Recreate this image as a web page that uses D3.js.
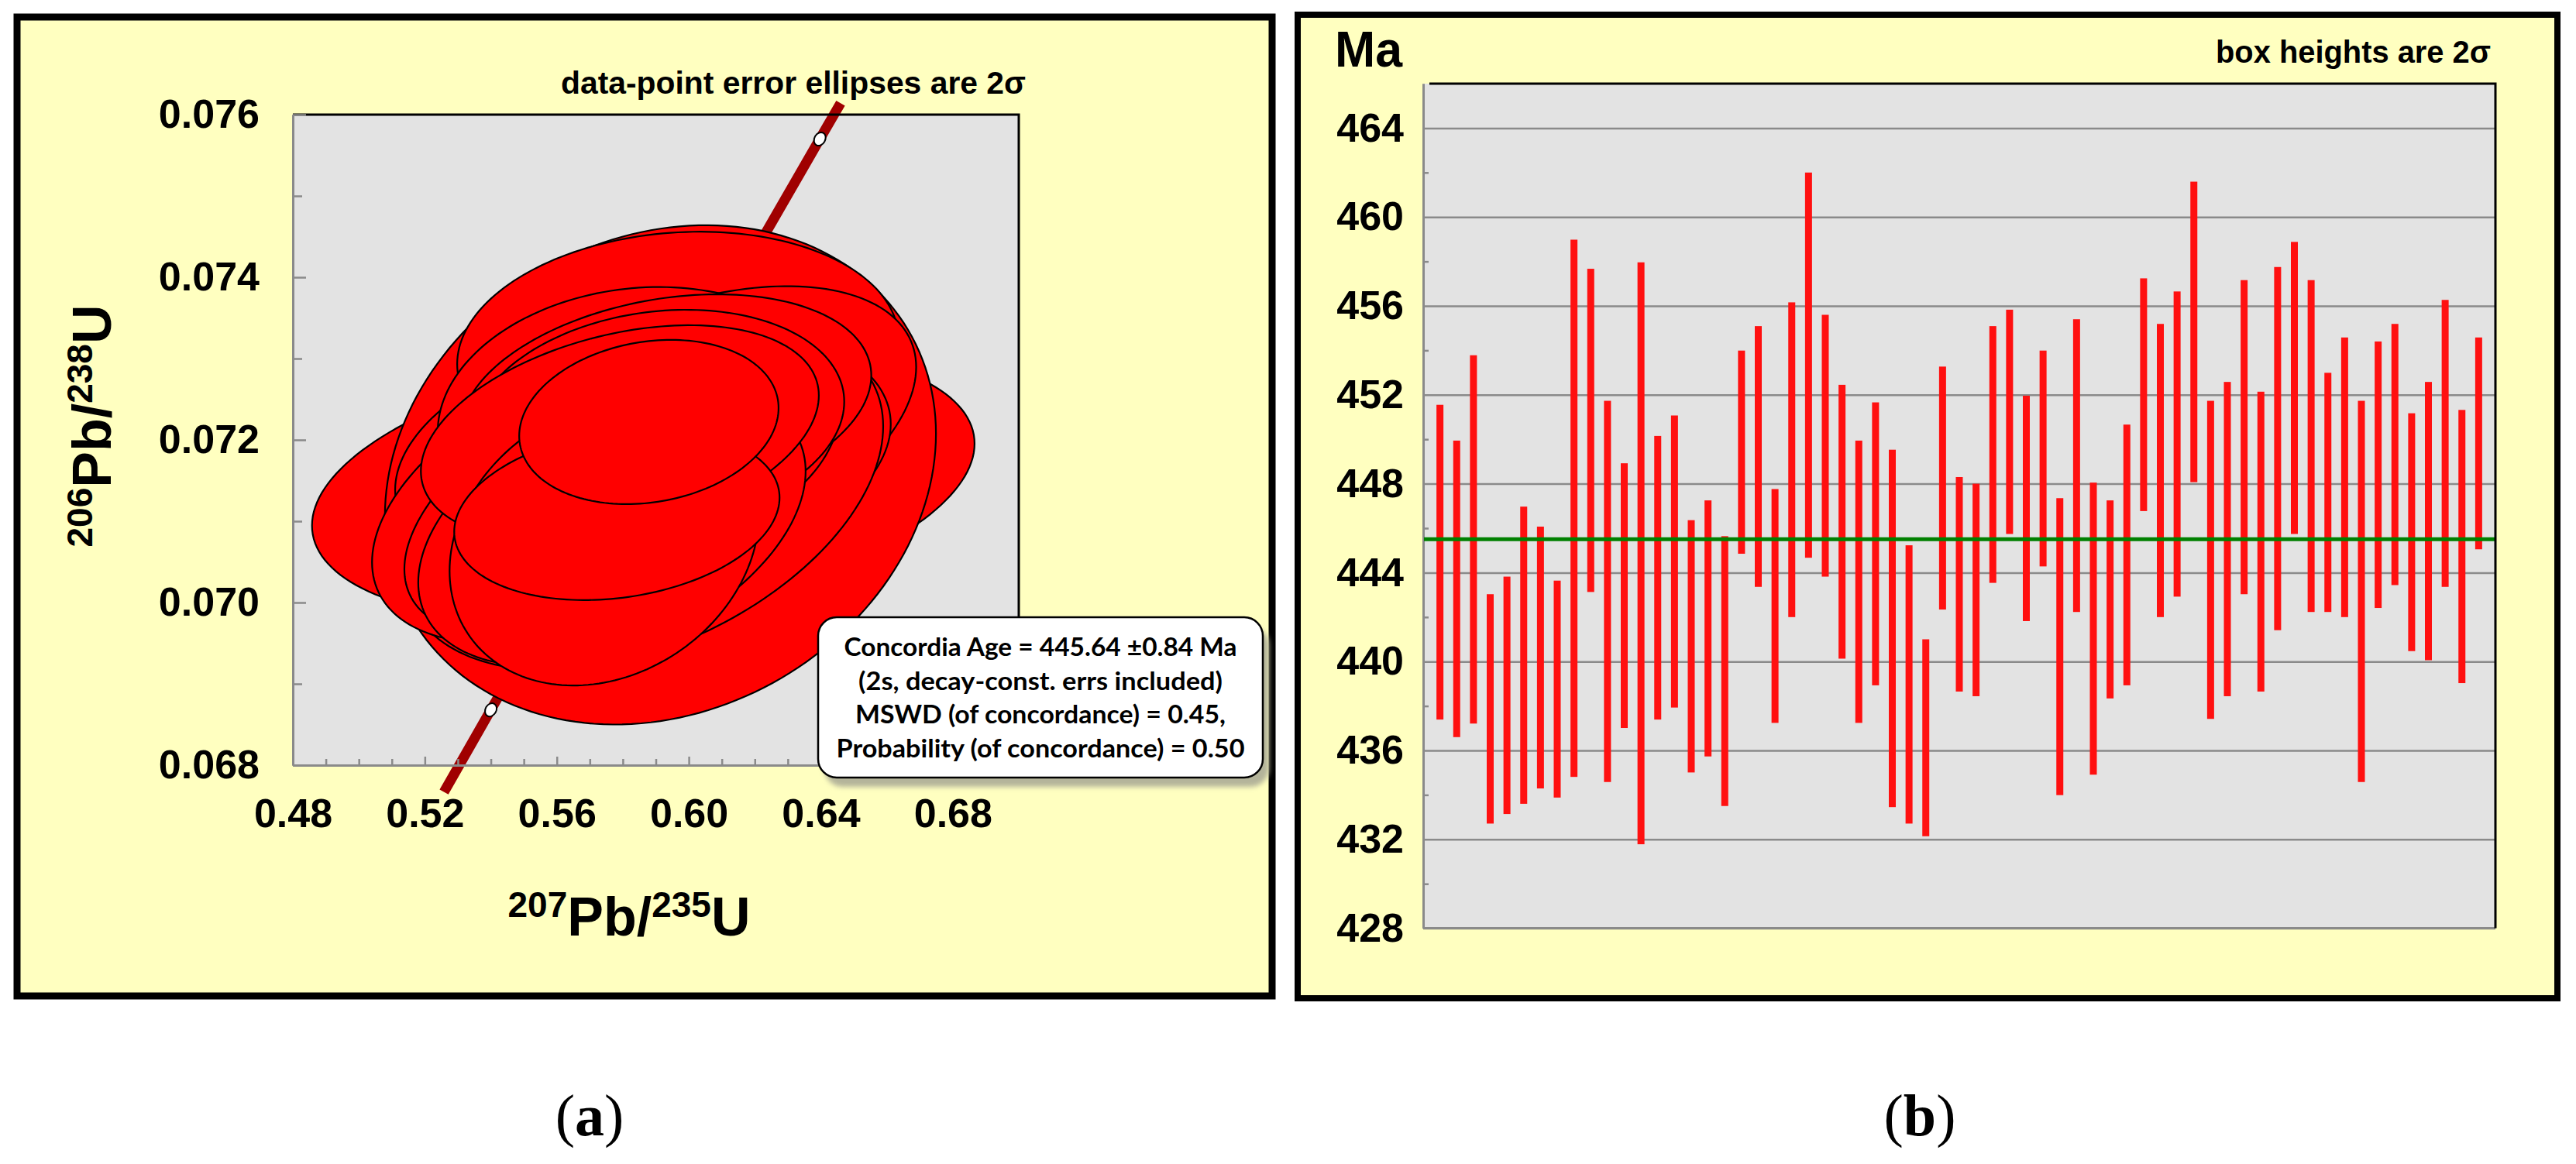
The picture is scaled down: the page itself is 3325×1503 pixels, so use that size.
<!DOCTYPE html>
<html>
<head>
<meta charset="utf-8">
<script src="https://cdn.jsdelivr.net/npm/d3@7"></script>
<style>
  html, body { margin: 0; padding: 0; background: #ffffff; }
  svg { display: block; }
</style>
</head>
<body>
<svg id="chart" width="3325" height="1503"></svg>
<script>
// ---------- DATA: panel (a) concordia error ellipses (2 sigma) ----------
const ellX   = [0.5862, 0.5914, 0.5967, 0.5978, 0.5861, 0.5861, 0.5697, 0.5849, 0.5931, 0.5908, 0.5697, 0.5767, 0.5791, 0.5744, 0.5782, 0.5879];   // 207Pb/235U
const ellY   = [0.07145, 0.07157, 0.07308, 0.07208, 0.07179, 0.07131, 0.07131, 0.07226, 0.07246, 0.07227, 0.07122, 0.07093, 0.07208, 0.07074, 0.07108, 0.07222]; // 206Pb/238U
const ellSX  = [0.1004, 0.0835, 0.0669, 0.0711, 0.0751, 0.0728, 0.0657, 0.0610, 0.0622, 0.0563, 0.0559, 0.0587, 0.0603, 0.0469, 0.0493, 0.0393];
const ellSY  = [0.00168, 0.00307, 0.00148, 0.00181, 0.00162, 0.00214, 0.00181, 0.00162, 0.00133, 0.00133, 0.00162, 0.00171, 0.00133, 0.00176, 0.00105, 0.00101];
const ellRho = [0.30, 0.165, 0.10, 0.45, 0.25, 0.40, 0.45, 0.10, 0.25, 0.15, 0.50, 0.40, 0.35, 0.20, 0.20, 0.17];

// concordia line (as drawn) and its age markers
const concX = [0.5258, 0.5400, 0.6397, 0.6460];
const concY = [0.06767, 0.06868, 0.07570, 0.07614];
const markerX = [0.5400, 0.6397];
const markerY = [0.06868, 0.07570];

const xTicksA = [0.48, 0.52, 0.56, 0.60, 0.64, 0.68];
const xMinorA = [0.49, 0.50, 0.51, 0.53, 0.54, 0.55, 0.57, 0.58, 0.59, 0.61, 0.62, 0.63, 0.65, 0.66, 0.67, 0.69];
const yTicksA = [0.068, 0.070, 0.072, 0.074, 0.076];
const yMinorA = [0.069, 0.071, 0.073, 0.075];

const infoLines = [
  "Concordia Age = 445.64 \u00B10.84 Ma",
  "(2s, decay-const. errs included)",
  "MSWD (of concordance) = 0.45,",
  "Probability (of concordance) = 0.50"
];

// ---------- DATA: panel (b) age boxes (2 sigma), Ma ----------
const ageLow  = [437.39, 436.60, 437.21, 432.71, 433.14, 433.60, 434.29, 433.88, 434.81, 443.13,
                 434.58, 437.01, 431.78, 437.39, 437.93, 435.01, 435.73, 433.50, 444.85, 443.36,
                 437.24, 442.00, 444.67, 443.82, 440.13, 437.24, 438.93, 433.45, 432.71, 432.14,
                 442.34, 438.65, 438.44, 443.54, 445.74, 441.82, 444.28, 433.99, 442.23, 434.91,
                 438.34, 438.93, 446.77, 442.00, 442.92, 448.07, 437.42, 438.44, 443.03, 438.65,
                 441.41, 445.74, 442.23, 442.23, 442.00, 434.58, 442.41, 443.44, 440.47, 440.06,
                 443.36, 439.03, 445.05];
const ageHigh = [451.55, 449.94, 453.78, 443.03, 443.82, 446.97, 446.07, 443.64, 458.98, 457.67,
                 451.73, 448.92, 457.96, 450.15, 451.07, 446.36, 447.25, 445.64, 453.99, 455.09,
                 447.76, 456.16, 462.00, 455.60, 452.45, 449.94, 451.66, 449.53, 445.23, 441.00,
                 453.27, 448.30, 448.00, 455.09, 455.83, 451.96, 453.99, 447.35, 455.40, 448.05,
                 447.25, 450.66, 457.24, 455.19, 456.65, 461.59, 451.73, 452.58, 457.16, 452.14,
                 457.75, 458.88, 457.16, 452.99, 454.58, 451.73, 454.40, 455.19, 451.17, 452.58,
                 456.27, 451.32, 454.58];
const meanAge = 445.5;
const yTicksB = [428, 432, 436, 440, 444, 448, 452, 456, 460, 464];
const yMinorB = [430, 434, 438, 442, 446, 450, 454, 458, 462];

// ---------- DRAWING ----------
const svg = d3.select("#chart");
const boldFont = "'Liberation Sans', Arial, sans-serif";
const gridGray = "#8a8a8a";

// ===== Panel (a) =====
svg.append("rect").attr("x", 22).attr("y", 22).attr("width", 1620).attr("height", 1264)
  .attr("fill", "#ffffc0").attr("stroke", "#000").attr("stroke-width", 9);

const xA = d3.scaleLinear().domain([0.48, 0.70]).range([378, 1315]);
const yA = d3.scaleLinear().domain([0.068, 0.076]).range([988, 148]);

svg.append("rect").attr("x", xA(0.48)).attr("y", yA(0.076))
  .attr("width", xA(0.70) - xA(0.48)).attr("height", yA(0.068) - yA(0.076))
  .attr("fill", "#e3e3e3");

// concordia line
const concLine = d3.line().x((d, i) => xA(concX[i])).y((d, i) => yA(concY[i]));
svg.append("path").attr("d", concLine(concX)).attr("fill", "none")
  .attr("stroke", "#a00000").attr("stroke-width", 13);

// markers
const slopeAng = Math.atan2(yA(markerY[1]) - yA(markerY[0]), xA(markerX[1]) - xA(markerX[0])) * 180 / Math.PI;
svg.selectAll(".marker").data(markerX).enter().append("ellipse")
  .attr("cx", 0).attr("cy", 0).attr("rx", 9).attr("ry", 7)
  .attr("transform", (d, i) => `translate(${xA(markerX[i])},${yA(markerY[i])}) rotate(${slopeAng})`)
  .attr("fill", "#fff").attr("stroke", "#000").attr("stroke-width", 2);

// ellipses
svg.append("clipPath").attr("id", "clipA").append("rect")
  .attr("x", xA(0.48)).attr("y", yA(0.076)).attr("width", xA(0.70) - xA(0.48)).attr("height", yA(0.068) - yA(0.076));
const ellLine = d3.line().curve(d3.curveLinearClosed);
const gEll = svg.append("g").attr("clip-path", "url(#clipA)");
ellX.forEach((cx, k) => {
  const pts = [];
  const r = ellRho[k], s = Math.sqrt(1 - r * r);
  for (let j = 0; j < 180; j++) {
    const t = j / 180 * 2 * Math.PI;
    const vx = cx + ellSX[k] * Math.cos(t);
    const vy = ellY[k] + ellSY[k] * (r * Math.cos(t) + s * Math.sin(t));
    pts.push([xA(vx), yA(vy)]);
  }
  gEll.append("path").attr("d", ellLine(pts)).attr("fill", "#ff0000")
    .attr("stroke", "#000").attr("stroke-width", 2.2);
});

// plot frame: top/right black
svg.append("path").attr("d", `M${xA(0.48)},${yA(0.076)}H${xA(0.70)}V${yA(0.068)}`)
  .attr("fill", "none").attr("stroke", "#000").attr("stroke-width", 3);

// axes
function styleAxis(g) {
  g.selectAll("path.domain").attr("stroke", gridGray).attr("stroke-width", 3);
  g.selectAll(".tick line").attr("stroke", gridGray).attr("stroke-width", 2.5);
  g.selectAll(".tick text").attr("fill", "#000").attr("font-family", boldFont)
    .attr("font-weight", "bold").attr("font-size", 52);
}
const gyA = svg.append("g").attr("transform", `translate(${xA(0.48)},0)`)
  .call(d3.axisLeft(yA).tickValues(yTicksA).tickSize(-17).tickSizeOuter(0).tickPadding(43).tickFormat(d3.format(".3f")));
styleAxis(gyA);
const gyAm = svg.append("g").attr("transform", `translate(${xA(0.48)},0)`)
  .call(d3.axisLeft(yA).tickValues(yMinorA).tickSize(-12).tickSizeOuter(0).tickFormat(""));
styleAxis(gyAm);
const gxA = svg.append("g").attr("transform", `translate(0,${yA(0.068)})`)
  .call(d3.axisBottom(xA).tickValues(xTicksA).tickSize(-11).tickSizeOuter(0).tickPadding(43).tickFormat(d3.format(".2f")));
styleAxis(gxA);
const gxAm = svg.append("g").attr("transform", `translate(0,${yA(0.068)})`)
  .call(d3.axisBottom(xA).tickValues(xMinorA).tickSize(-8).tickSizeOuter(0).tickFormat(""));
styleAxis(gxAm);

// axis titles
function isotopeTitle(sel, supA, mainA, supB, mainB) {
  const t = sel.append("text").attr("font-family", boldFont).attr("font-weight", "bold")
    .attr("text-anchor", "middle").attr("fill", "#000");
  t.append("tspan").attr("font-size", 46).attr("dy", -24).text(supA);
  t.append("tspan").attr("font-size", 70).attr("dy", 24).text(mainA);
  t.append("tspan").attr("font-size", 46).attr("dy", -24).text(supB);
  t.append("tspan").attr("font-size", 70).attr("dy", 24).text(mainB);
  return t;
}
isotopeTitle(svg.append("g").attr("transform", "translate(812,1208)"), "207", "Pb/", "235", "U");
isotopeTitle(svg.append("g").attr("transform", "translate(143,550) rotate(-90)"), "206", "Pb/", "238", "U");

svg.append("text").attr("x", 724).attr("y", 121).attr("font-family", boldFont).attr("font-weight", "bold")
  .attr("font-size", 41).attr("textLength", 600).attr("lengthAdjust", "spacingAndGlyphs")
  .text("data-point error ellipses are 2\u03C3");

// info box
const defs = svg.append("defs");
const f = defs.append("filter").attr("id", "blur").attr("x", "-10%").attr("y", "-10%").attr("width", "120%").attr("height", "130%");
f.append("feGaussianBlur").attr("stdDeviation", 3);
svg.append("rect").attr("x", 1064).attr("y", 809).attr("width", 574).attr("height", 207).attr("rx", 24)
  .attr("fill", "#b4b49a").attr("filter", "url(#blur)");
svg.append("rect").attr("x", 1056).attr("y", 797).attr("width", 574).attr("height", 207).attr("rx", 24)
  .attr("fill", "#fff").attr("stroke", "#000").attr("stroke-width", 2.5);
const infoW = [507, 470, 478, 527];
svg.selectAll(".info").data(infoLines).enter().append("text")
  .attr("x", 1343).attr("y", (d, i) => 847 + i * 43.5)
  .attr("text-anchor", "middle").attr("font-family", "Lato, 'Open Sans', sans-serif").attr("font-weight", "bold")
  .attr("font-size", 32).attr("textLength", (d, i) => infoW[i]).attr("lengthAdjust", "spacingAndGlyphs")
  .text(d => d);

// ===== Panel (b) =====
svg.append("rect").attr("x", 1675).attr("y", 19).attr("width", 1626).attr("height", 1270)
  .attr("fill", "#ffffc0").attr("stroke", "#000").attr("stroke-width", 8);

const xB = d3.scaleLinear().domain([0, 64]).range([1837, 3221]);
const yB = d3.scaleLinear().domain([428, 466]).range([1198.6, 108]);

svg.append("rect").attr("x", xB(0)).attr("y", yB(466)).attr("width", xB(64) - xB(0)).attr("height", yB(428) - yB(466))
  .attr("fill", "#e3e3e3");

// grid + labels
const gyB = svg.append("g").attr("transform", `translate(${xB(0)},0)`)
  .call(d3.axisLeft(yB).tickValues(yTicksB).tickSize(-(xB(64) - xB(0))).tickSizeOuter(0).tickPadding(25).tickFormat(d3.format("d")));
styleAxis(gyB);
gyB.selectAll(".tick line").attr("stroke-width", 2.5);
const gyBm = svg.append("g").attr("transform", `translate(${xB(0)},0)`)
  .call(d3.axisLeft(yB).tickValues(yMinorB).tickSize(-7).tickSizeOuter(0).tickFormat(""));
styleAxis(gyBm);
svg.append("line").attr("x1", xB(0)).attr("x2", xB(64)).attr("y1", yB(428)).attr("y2", yB(428))
  .attr("stroke", gridGray).attr("stroke-width", 3);

// bars
svg.selectAll(".bar").data(ageLow).enter().append("rect")
  .attr("x", (d, i) => xB(i + 1) - 4.5).attr("width", 9)
  .attr("y", (d, i) => yB(ageHigh[i])).attr("height", (d, i) => yB(ageLow[i]) - yB(ageHigh[i]))
  .attr("fill", "#ff1010");

// mean line
svg.append("line").attr("x1", xB(0) + 1).attr("x2", xB(64)).attr("y1", yB(meanAge)).attr("y2", yB(meanAge))
  .attr("stroke", "#008000").attr("stroke-width", 5);

// frame top/right
svg.append("path").attr("d", `M${xB(0) + 8},${yB(466)}H${xB(64)}V${yB(428)}`)
  .attr("fill", "none").attr("stroke", "#000").attr("stroke-width", 3);

svg.append("text").attr("x", 1723).attr("y", 86).attr("font-family", boldFont).attr("font-weight", "bold")
  .attr("font-size", 64).attr("textLength", 87).attr("lengthAdjust", "spacingAndGlyphs").text("Ma");
svg.append("text").attr("x", 3215).attr("y", 81).attr("text-anchor", "end").attr("font-family", boldFont)
  .attr("font-weight", "bold").attr("font-size", 41).attr("textLength", 355).attr("lengthAdjust", "spacingAndGlyphs")
  .text("box heights are 2\u03C3");

// ===== captions =====
const captions = [["a", 761], ["b", 2478]];
captions.forEach(([c, x]) => {
  const t = svg.append("text").attr("x", x).attr("y", 1466).attr("text-anchor", "middle")
    .attr("font-family", "'Liberation Serif', 'Times New Roman', serif").attr("font-size", 76).attr("fill", "#000");
  t.append("tspan").text("(");
  t.append("tspan").attr("font-weight", "bold").text(c);
  t.append("tspan").text(")");
});
</script>
</body>
</html>
